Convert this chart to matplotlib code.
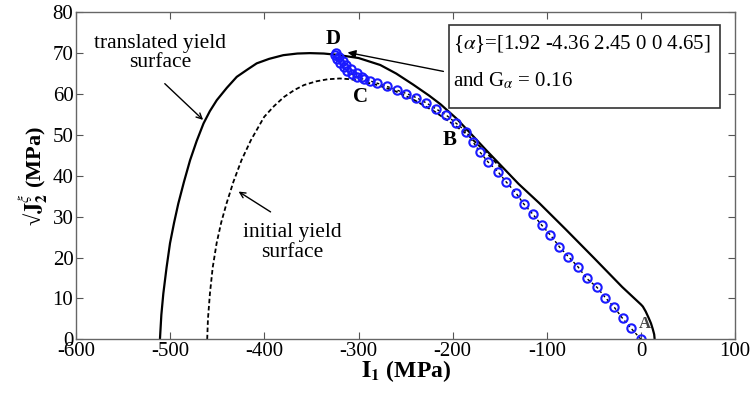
import matplotlib
matplotlib.use("Agg")
import matplotlib.pyplot as plt

plt.rcParams['font.family'] = ['Liberation Serif', 'DejaVu Serif']
plt.rcParams['mathtext.fontset'] = 'stix'
plt.rcParams['axes.unicode_minus'] = False

# translated yield surface (solid)
trans_x = [-511, -509.5, -507.4, -504, -500.3, -496, -491.5, -485.5, -479, -472, -464.7,
           -458, -450.6, -440, -429.4, -418, -408.2, -395, -380, -365, -351.7, -337, -323.4,
           -300, -277, -260, -242, -225, -213, -196, -182, -165, -150, -130, -108,
           -80, -50, -20, 0, 2, 5, 8, 10.6, 12.5, 14, 14.5]
trans_y = [0, 6, 11.2, 17.5, 23.5, 28.5, 33.2, 38.5, 43.8, 48.5, 52.8,
           55.8, 58.5, 61.5, 64.2, 66, 67.5, 68.6, 69.5, 69.9, 70, 69.9, 69.6,
           68.8, 67.1, 65, 62.3, 59.6, 57.5, 54, 50.6, 46.4, 42.8, 38, 33.3,
           26.9, 19.9, 12.8, 8.5, 8, 6.8, 5.3, 3.9, 2.5, 1.2, 0]

# initial yield surface (dashed)
init_x = [-460.8, -460, -457.9, -455, -450.8, -446, -440.3, -433, -424.4, -414.4, -400.3,
          -390, -379.1, -368, -357.9, -345, -333.1, -320, -308, -295, -280, -260, -240,
          -220, -200, -185, -165, -147]
init_y = [0, 5, 11.2, 17.5, 23.5, 28.5, 33.2, 38.5, 43.8, 48.7, 54.4,
          57, 59.3, 61, 62.2, 63.1, 63.6, 63.8, 63.6, 63, 62.2, 60.6, 58.4,
          55.8, 52.7, 50.2, 45.8, 41.5]

# loading path markers A -> B -> C -> D
path_x = [0, -10.6, -19.5, -28.3, -37.9, -46.7, -57.7, -67.2, -77.1, -86.6, -96.2, -105.4,
          -114.9, -124.5, -132.6, -143.2, -152, -162.6, -171.4, -178.5, -185.5, -196.1,
          -206.7, -217.3, -227.9, -238.5, -249.1, -259.7, -270.3, -280.9, -287.6, -294.7,
          -301.7, -307, -312.3, -315.9, -319.4, -322.9, -324.7]
path_y = [0, 2.7, 5.1, 7.8, 10.2, 12.7, 14.9, 17.8, 20.2, 22.6, 25.5, 27.9,
          30.6, 33.1, 35.7, 38.5, 41, 43.4, 45.9, 48.3, 50.8, 52.8,
          54.8, 56.3, 57.8, 59.1, 60.1, 61, 61.9, 62.7, 63.2, 63.6,
          64.2, 64.8, 65.6, 66.5, 67.5, 68.5, 69.5]
# second (upper) band near C-D
band_x = [-296, -302, -308, -313, -317, -321, -324]
band_y = [64.2, 65.2, 66.2, 67.1, 68.0, 69.0, 70.0]

xticks = [-600, -500, -400, -300, -200, -100, 0, 100]
yticks = [0, 10, 20, 30, 40, 50, 60, 70, 80]

blue = '#1a1aff'

fig = plt.figure(figsize=(7.54, 3.95), dpi=100)
ax = fig.add_axes([0.101, 0.141, 0.874, 0.828])

ax.plot(trans_x, trans_y, color='black', lw=1.6, solid_joinstyle='round')
ax.plot(init_x, init_y, color='black', lw=1.3, ls=(0, (2.5, 1.5)))
ax.plot(path_x, path_y, color='black', lw=1.0, ls=(0, (2, 2)),
        marker='o', ms=6, mfc='none', mec=blue, mew=1.5)
ax.plot(band_x, band_y, ls='none', marker='o', ms=6, mfc='none', mec=blue, mew=1.5)

ax.set_xlim(-600, 100)
ax.set_ylim(0, 80)
ax.set_xticks(xticks)
ax.set_yticks(yticks)
ax.tick_params(direction='in', top=True, right=True, labelsize=15, length=5,
               color='#555555', pad=2)
for s in ax.spines.values():
    s.set_color('#666666')
    s.set_linewidth(1.0)

ax.set_xlabel(r'$\mathbf{I}_{\mathbf{1}}$ (MPa)', fontsize=17, fontweight='bold', labelpad=-2)
ax.set_ylabel('\u221a' + r'$\mathbf{J}_{\mathbf{2}}^{\xi}$' + ' (MPa)', fontsize=16,
              fontweight='bold', labelpad=2)

# point labels
ax.text(-327, 73.5, 'D', fontsize=15, fontweight='bold', ha='center', va='center')
ax.text(-298, 59.3, 'C', fontsize=15, fontweight='bold', ha='center', va='center')
ax.text(-203, 48.7, 'B', fontsize=15, fontweight='bold', ha='center', va='center')
ax.text(4, 3.8, 'A', fontsize=12, fontweight='bold', ha='center', va='center', color='#444444')

# surface annotations
ax.text(-511, 70, 'translated yield\nsurface', fontsize=15.5, ha='center', va='center',
        linespacing=1.05)
ax.annotate('', xy=(-463, 53.2), xytext=(-508, 63),
            arrowprops=dict(arrowstyle='->', color='black', lw=1.0))
ax.text(-370, 23.7, 'initial yield\nsurface', fontsize=15.5, ha='center', va='center',
        linespacing=1.05)
ax.annotate('', xy=(-430, 36.5), xytext=(-391, 30.8),
            arrowprops=dict(arrowstyle='->', color='black', lw=1.0))

# parameter box
ax.add_patch(plt.Rectangle((-204, 56.5), 288, 20.3, fill=False, ec='#333333', lw=1.2, zorder=5))
ax.text(-200, 72.3, r'{$\alpha$}=[1.92 -4.36 2.45 0 0 4.65]', fontsize=15, ha='left', va='center')
ax.text(-200, 63.3, r'and G$_{\alpha}$ = 0.16', fontsize=15, ha='left', va='center')
ax.annotate('', xy=(-314.6, 70.3), xytext=(-207, 65.4),
            arrowprops=dict(arrowstyle='-|>', color='black', lw=1.0, mutation_scale=12))

fig.savefig('out.png', dpi=100)
